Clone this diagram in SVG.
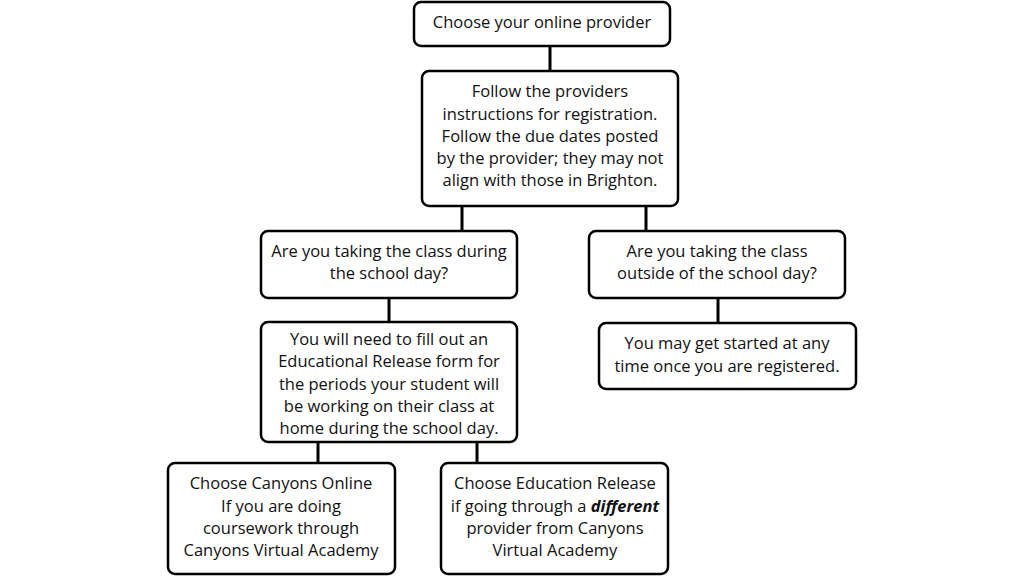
<svg xmlns="http://www.w3.org/2000/svg" width="1024" height="576" viewBox="0 0 1024 576">
<style>
.box{fill:#fff;stroke:#000;stroke-width:2.5}
.t{font-family:"Open Sans","Liberation Sans",sans-serif;font-size:16.5px;fill:#111;text-anchor:middle}
.c{stroke:#000;stroke-width:3;fill:none}
</style>
<rect width="1024" height="576" fill="#fff"/>
<g id="connectors">
<line class="c" x1="550" y1="46" x2="550" y2="71"/>
<line class="c" x1="462" y1="206" x2="462" y2="231"/>
<line class="c" x1="646" y1="206" x2="646" y2="231"/>
<line class="c" x1="389" y1="298" x2="389" y2="322"/>
<line class="c" x1="718" y1="298" x2="718" y2="323"/>
<line class="c" x1="318" y1="442" x2="318" y2="463"/>
<line class="c" x1="477" y1="442" x2="477" y2="463"/>
</g>
<g id="n1">
<rect class="box" x="414" y="2" width="256" height="44" rx="7"/>
<text class="t" x="542" y="28">Choose your online provider</text>
</g>
<g id="n2">
<rect class="box" x="422" y="71" width="256" height="135" rx="7"/>
<text class="t" x="550" y="97">Follow the providers</text>
<text class="t" x="550" y="120">instructions for registration.</text>
<text class="t" x="550" y="142">Follow the due dates posted</text>
<text class="t" x="550" y="164">by the provider; they may not</text>
<text class="t" x="550" y="186">align with those in Brighton.</text>
</g>
<g id="n3">
<rect class="box" x="261" y="231" width="256" height="67" rx="7"/>
<text class="t" x="389" y="257">Are you taking the class during</text>
<text class="t" x="389" y="279">the school day?</text>
</g>
<g id="n4">
<rect class="box" x="589" y="231" width="256" height="67" rx="7"/>
<text class="t" x="717" y="257">Are you taking the class</text>
<text class="t" x="717" y="279">outside of the school day?</text>
</g>
<g id="n5">
<rect class="box" x="261" y="322" width="256" height="120" rx="7"/>
<text class="t" x="389" y="345">You will need to fill out an</text>
<text class="t" x="389" y="367">Educational Release form for</text>
<text class="t" x="389" y="390">the periods your student will</text>
<text class="t" x="389" y="412">be working on their class at</text>
<text class="t" x="389" y="434">home during the school day.</text>
</g>
<g id="n6">
<rect class="box" x="599" y="323" width="257" height="66" rx="7"/>
<text class="t" x="727" y="349">You may get started at any</text>
<text class="t" x="727" y="372">time once you are registered.</text>
</g>
<g id="n7">
<rect class="box" x="168" y="463" width="227" height="111" rx="7"/>
<text class="t" x="281" y="489">Choose Canyons Online</text>
<text class="t" x="281" y="512">If you are doing</text>
<text class="t" x="281" y="534">coursework through</text>
<text class="t" x="281" y="556">Canyons Virtual Academy</text>
</g>
<g id="n8">
<rect class="box" x="441" y="463" width="227" height="111" rx="7"/>
<text class="t" x="555" y="489">Choose Education Release</text>
<text class="t" x="555" y="512">if going through a <tspan font-weight="bold" font-style="italic">different</tspan></text>
<text class="t" x="555" y="534">provider from Canyons</text>
<text class="t" x="555" y="556">Virtual Academy</text>
</g>
</svg>
